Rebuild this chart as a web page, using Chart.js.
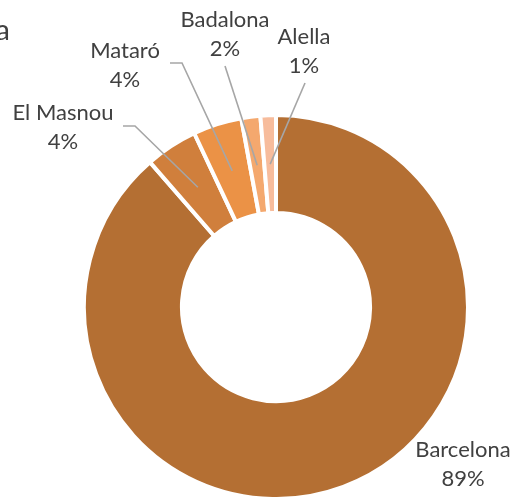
<!DOCTYPE html>
<html>
<head>
<meta charset="utf-8">
<script src="https://cdn.jsdelivr.net/npm/chart.js@4/dist/chart.umd.min.js"></script>
<style>
  html, body { margin: 0; padding: 0; background: #fff; }
  #wrap { width: 513px; height: 497px; position: relative; }
</style>
</head>
<body>
<div id="wrap"><canvas id="c"></canvas></div>
<script>
const cities = ['Barcelona', 'El Masnou', 'Mataró', 'Badalona', 'Alella'];
const shares = [88.6, 4.4, 4.1, 1.6, 1.3];
const sliceColors = ['#B46F33', '#D07F3C', '#EB9246', '#F4A86E', '#F7BC9C'];

// where each data label sits (centre x, first baseline) and the bend of its leader line
const labelAnchor = [[463, 457], [63, 120], [125, 58], [225, 27], [304, 44]];
const leaderStart = [null, [[123, 126], [135, 126]], [[170, 63], [182, 63]], [[225, 66]], [[305, 83]]];

const FONT = '22px Lato';
const TEXT = '#404040';

const labelPlugin = {
    id: 'excelLabels',
    afterDatasetsDraw(chart) {
        const ctx = chart.ctx;
        const meta = chart.getDatasetMeta(0);
        const total = shares.reduce((a, b) => a + b, 0);
        ctx.save();
        // leader lines
        ctx.strokeStyle = '#A6A6A6';
        ctx.lineWidth = 1.6;
        meta.data.forEach((arc, i) => {
            if (!leaderStart[i]) return;
            const p = arc.getCenterPoint();
            ctx.beginPath();
            leaderStart[i].forEach((pt, k) => k === 0 ? ctx.moveTo(pt[0], pt[1]) : ctx.lineTo(pt[0], pt[1]));
            ctx.lineTo(p.x, p.y);
            ctx.stroke();
        });
        // labels
        ctx.fillStyle = TEXT;
        ctx.font = FONT;
        ctx.textAlign = 'center';
        ctx.textBaseline = 'alphabetic';
        cities.forEach((name, i) => {
            const [x, y] = labelAnchor[i];
            ctx.fillText(name, x, y);
            ctx.fillText(Math.round(shares[i] / total * 100) + '%', x, y + 29);
        });
        // chart title, cut off at the left edge
        ctx.font = '29px Lato';
        ctx.textAlign = 'right';
        ctx.fillText('a', 10, 40);
        ctx.restore();
    }
};

new Chart(document.getElementById('c'), {
    type: 'doughnut',
    data: {
        labels: cities,
        datasets: [{
            data: shares,
            backgroundColor: sliceColors,
            borderColor: '#ffffff',
            borderWidth: 4,
            radius: 192,
            cutout: '49%'
        }]
    },
    options: {
        responsive: true,
        maintainAspectRatio: false,
        animation: false,
        layout: { padding: { left: 86, right: 47, top: 120, bottom: 3 } },
        plugins: {
            legend: { display: false },
            tooltip: { enabled: false },
            title: { display: false }
        }
    },
    plugins: [labelPlugin]
});
</script>
</body>
</html>
